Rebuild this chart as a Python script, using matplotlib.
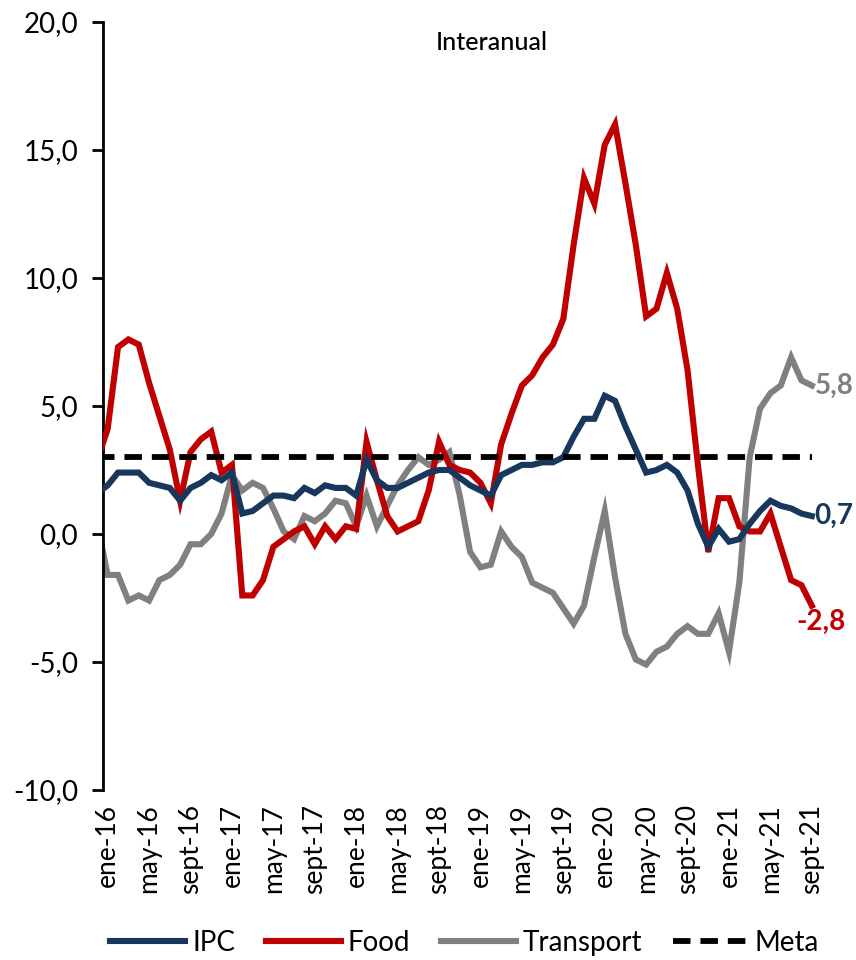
import matplotlib
matplotlib.use("Agg")
import matplotlib.pyplot as plt
import numpy as np

plt.rcParams['font.family'] = ['Lato', 'DejaVu Sans']

# monthly categories: dic-15 (partly hidden behind the axis) to sept-21
month_names = ['ene', 'feb', 'mar', 'abr', 'may', 'jun', 'jul', 'ago', 'sept', 'oct', 'nov', 'dic']
categories = ['dic-15'] + [f"{month_names[m]}-{y % 100}" for y in range(2016, 2022) for m in range(12)][:69]

ipc = [1.6,
       1.9, 2.4, 2.4, 2.4, 2.0, 1.9, 1.8, 1.3, 1.8, 2.0, 2.3, 2.1,
       2.4, 0.8, 0.9, 1.2, 1.5, 1.5, 1.4, 1.8, 1.6, 1.9, 1.8, 1.8,
       1.5, 2.9, 2.1, 1.8, 1.8, 2.0, 2.2, 2.4, 2.5, 2.5, 2.2, 1.9,
       1.7, 1.5, 2.3, 2.5, 2.7, 2.7, 2.8, 2.8, 3.0, 3.8, 4.5, 4.5,
       5.4, 5.2, 4.2, 3.3, 2.4, 2.5, 2.7, 2.4, 1.7, 0.4, -0.5, 0.2,
       -0.3, -0.2, 0.4, 0.9, 1.3, 1.1, 1.0, 0.8, 0.7]

food = [2.9,
        4.1, 7.3, 7.6, 7.4, 5.9, 4.6, 3.3, 1.3, 3.2, 3.7, 4.0, 2.4,
        2.7, -2.4, -2.4, -1.8, -0.5, -0.2, 0.1, 0.3, -0.4, 0.3, -0.2, 0.3,
        0.2, 3.6, 2.1, 0.7, 0.1, 0.3, 0.5, 1.7, 3.6, 2.7, 2.5, 2.4,
        2.0, 1.2, 3.5, 4.7, 5.8, 6.2, 6.9, 7.4, 8.4, 11.3, 13.9, 12.9,
        15.2, 16.0, 13.7, 11.3, 8.5, 8.8, 10.2, 8.8, 6.4, 2.7, -0.7, 1.4,
        1.4, 0.3, 0.1, 0.1, 0.8, -0.5, -1.8, -2.0, -2.8]

transport = [0.4,
             -1.6, -1.6, -2.6, -2.4, -2.6, -1.8, -1.6, -1.2, -0.4, -0.4, 0.0, 0.8,
             2.3, 1.7, 2.0, 1.8, 1.0, 0.1, -0.2, 0.7, 0.5, 0.8, 1.3, 1.2,
             0.3, 1.5, 0.3, 1.1, 1.9, 2.5, 3.0, 2.7, 2.9, 3.2, 1.5, -0.7,
             -1.3, -1.2, 0.1, -0.5, -0.9, -1.9, -2.1, -2.3, -2.9, -3.5, -2.8, -0.9,
             0.9, -1.7, -3.9, -4.9, -5.1, -4.6, -4.4, -3.9, -3.6, -3.9, -3.9, -3.1,
             -4.6, -1.9, 3.0, 4.9, 5.5, 5.8, 6.9, 6.0, 5.8]

meta = [3.0] * len(categories)

yticks = [-10, -5, 0, 5, 10, 15, 20]

x = np.arange(len(categories)) - 1  # ene-16 at 0

fig = plt.figure(figsize=(8.56, 9.6), dpi=100)
ax = fig.add_axes([103 / 856, 1 - 790 / 960, (817 - 103) / 856, (790 - 22) / 960])

c_ipc = '#17375E'
c_food = '#C00000'
c_tr = '#808080'
lw = 4.4

ax.plot(x, transport, color=c_tr, lw=lw, label='Transport', solid_joinstyle='miter', zorder=2)
ax.plot(x, food, color=c_food, lw=lw, label='Food', solid_joinstyle='miter', zorder=3)
ax.plot(x, ipc, color=c_ipc, lw=lw, label='IPC', solid_joinstyle='miter', zorder=4)
ax.plot(x, meta, color='black', lw=4.2, linestyle=(0, (3.0, 1.7)), label='Meta', zorder=5)

ax.set_xlim(-0.45, 68.5)
ax.set_ylim(-10, 20)
ax.set_yticks(yticks)
ax.set_yticklabels([f"{v:.1f}".replace('.', ',') for v in yticks], fontsize=20)
tick_idx = list(range(1, len(categories), 4))
ax.set_xticks(x[tick_idx])
ax.set_xticklabels([categories[i] for i in tick_idx], rotation=90, fontsize=19)

for s in ['top', 'right', 'bottom']:
    ax.spines[s].set_visible(False)
ax.spines['left'].set_linewidth(2.0)
ax.tick_params(axis='y', direction='out', length=8, width=2.0, pad=10)
ax.tick_params(axis='x', length=0, pad=10)

# end labels
ax.annotate('0,7', (x[-1], ipc[-1]), xytext=(2, 0), textcoords='offset points',
            ha='left', va='center', color=c_ipc, fontsize=20, fontweight='bold')
ax.annotate('5,8', (x[-1], transport[-1]), xytext=(2, 0), textcoords='offset points',
            ha='left', va='center', color=c_tr, fontsize=20, fontweight='bold')
ax.annotate('-2,8', (x[-1], food[-1]), xytext=(-11, -12), textcoords='offset points',
            ha='left', va='center', color=c_food, fontsize=20, fontweight='bold')

fig.text(492 / 856, 1 - 42 / 960, 'Interanual', ha='center', va='center', fontsize=18, fontweight='medium')

handles, labels = ax.get_legend_handles_labels()
order = ['IPC', 'Food', 'Transport', 'Meta']
hmap = dict(zip(labels, handles))
fig.legend([hmap[k] for k in order], order, loc='center', bbox_to_anchor=(0.543, 1 - 943 / 960),
           ncol=4, frameon=False, fontsize=20, handlelength=2.7, handletextpad=0.25, columnspacing=1.1)

fig.savefig('out.png', dpi=100)
